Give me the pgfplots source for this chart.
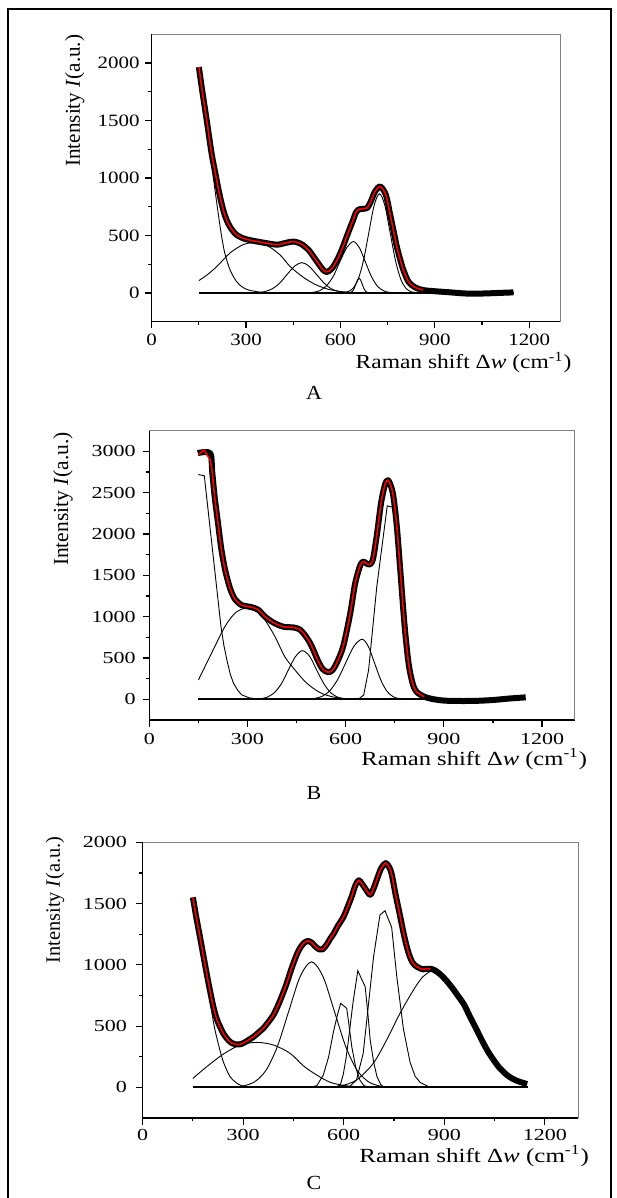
\documentclass[border=0pt]{standalone}
\usepackage{fontspec}
\setmainfont{Liberation Serif}
\newfontfamily\tickA[FakeStretch=1.21]{Liberation Serif}
\newfontfamily\tickB[FakeStretch=1.31]{Liberation Serif}
\newfontfamily\labA[FakeStretch=1.174]{Liberation Serif}
\newfontfamily\labB[FakeStretch=1.228]{Liberation Serif}
\newfontfamily\labC[FakeStretch=1.25]{Liberation Serif}
\newfontfamily\letterfont[FakeStretch=1.1]{Liberation Serif}
\usepackage{pgfplots}
\usepackage{pgfplotstable}
\pgfplotsset{compat=1.18}

% measured spectra (black) and fitted curves (red)
\pgfplotstableread{
x y
150 1965
160 1770
175 1500
190 1220
201 1060
212 905
222 780
232 680
243 605
255 550
270 505
291 475
315 458
340 445
376 428
400 420
430 438
450 447
465 438
480 418
500 370
514 317
530 255
545 200
556 183
567 198
577 229
590 290
604 375
617 470
630 563
641 640
650 705
660 728
670 732
685 740
697 800
710 883
726 926
742 869
750 790
757 694
768 550
779 404
790 290
800 200
816 98
837 49
863 25
900 15
950 5
1000 -5
1050 -5
1100 0
1150 5
}\dataA

\pgfplotstableread{
x y
148 2979
186 2979
192 2760
200 2440
210 2130
220 1820
232 1560
247 1340
262 1210
282 1140
300 1125
315 1112
333 1083
353 1002
374 941
394 900
414 875
440 870
460 845
475 780
490 690
501 600
515 470
530 365
547 328
560 355
575 460
593 650
614 1042
629 1405
645 1627
655 1665
665 1640
675 1635
684 1708
696 2010
708 2374
720 2596
730 2650
744 2495
756 2100
768 1500
780 890
792 440
804 200
816 93
840 32
864 5
900 -15
950 -20
1000 -18
1050 -8
1100 10
1150 24
}\dataB

\pgfplotstableread{
x y
150 1551
160 1390
171 1230
181 1080
191 931
201 790
211 659
221 560
231 495
243 430
256 385
266 362
276 352
288 350
301 362
315 385
331 413
349 455
361 485
372 522
390 590
405 675
419 770
430 850
443 960
455 1050
466 1120
480 1175
493 1195
505 1180
515 1150
527 1126
537 1126
549 1165
560 1215
569 1250
583 1320
599 1390
612 1475
624 1560
635 1650
645 1690
655 1660
666 1615
679 1572
690 1630
700 1706
712 1790
725 1830
735 1800
743 1740
755 1570
768 1400
780 1240
793 1100
805 1020
818 985
836 963
848 968
859 968
872 955
889 920
905 875
924 811
940 750
959 675
976 580
994 484
1012 385
1030 294
1048 220
1065 158
1083 110
1100 76
1120 50
1147 27
}\dataC

\pgfplotsset{
  raman/.style={
    scale only axis, anchor=north west,
    xmin=0, xmax=1300, xtick={0,300,600,900,1200},
    xticklabels={0,300,600,900,1200},
    minor x tick num=1, minor y tick num=1,
    axis x line*=bottom, axis y line*=left,
    axis line style={-, line width=0.65pt},
    tick align=outside, major tick length=3.35pt, minor tick length=1.7pt,
    tick style={black, line width=0.6pt},
    tick label style={inner sep=0pt},
    xlabel={Raman shift Δ\textit{w} (cm\textsuperscript{-1})},
    ylabel={Intensity \textit{I}(a.u.)},
    xlabel style={anchor=base east, inner sep=0pt},
    ylabel style={anchor=east, inner sep=0pt},
    extra description/.code={\draw[black!50, line width=0.65pt]
      (rel axis cs:0,1) -- (rel axis cs:1,1) -- (rel axis cs:1,0);},
  },
  meas/.style={black, line width=3pt, smooth, line join=round},
  fit/.style={red, line width=0.8pt, smooth},
  comp/.style={black, line width=0.45pt},
  base/.style={black, line width=1pt},
}

\begin{document}
\begin{tikzpicture}
\path[use as bounding box] (0pt,0pt) rectangle (308pt,-599pt);
\draw[line width=1.2pt] (4pt,-610pt) -- (4pt,-4.5pt) -- (305.5pt,-4.5pt) -- (305.5pt,-610pt);

% ---------- A ----------
\begin{axis}[raman, at={(75.85pt,-17.15pt)}, width=204.5pt, height=143.7pt,
  ymin=-250, ymax=2250, ytick={0,500,1000,1500,2000},
  yticklabels={0,500,1000,1500,2000},
  tick label style={font=\tickA\fontsize{8.65}{10}\selectfont},
  xticklabel shift=2.45pt, yticklabel shift=2.5pt,
  xlabel style={at={(axis description cs:1.027,-0.162)}, font=\labA\fontsize{10}{12}\selectfont},
  ylabel style={at={(axis description cs:-0.188,1.0)}, font=\fontsize{10.6}{12}\selectfont}]
\addplot[comp, smooth] coordinates {(150,1880)(165,1620)(180,1340)(190,1130)(200,920)(210,720)(220,530)(232,350)(249,201)(270,98)(290,48)(310,24)(340,9)(370,2)(400,0)};
\addplot[comp, smooth] coordinates {(150,108)(175,155)(207,230)(249,348)(291,421)(323,436)(366,413)(408,331)(440,230)(480,140)(520,74)(560,33)(600,13)(640,4)(680,0)};
\addplot[comp, smooth] coordinates {(336,3)(360,12)(383,36)(407,86)(430,160)(454,233)(477,264)(500,233)(524,160)(548,86)(571,36)(595,12)(618,3)(650,0)};
\addplot[comp, smooth] coordinates {(490,0)(512,5)(534,20)(555,60)(577,145)(598,271)(620,394)(641,447)(660,394)(679,271)(698,145)(717,60)(736,20)(755,5)(780,0)};
\addplot[comp, smooth] coordinates {(625,0)(634,6)(639,17)(644,42)(649,78)(654,113)(659,128)(664,113)(669,78)(674,42)(679,17)(684,6)(693,0)};
\addplot[comp, smooth] coordinates {(600,0)(622,10)(639,38)(656,117)(673,280)(690,523)(707,762)(724,863)(741,762)(758,523)(775,280)(792,117)(809,38)(826,10)(850,0)};
\addplot[base] coordinates {(150,0)(1150,0)};
\addplot[meas] table {\dataA};
\addplot[fit, restrict x to domain=140:865] table {\dataA};
\end{axis}
\node[font=\letterfont\fontsize{10}{12}\selectfont] at (157pt,-196.5pt) {A};

% ---------- B ----------
\begin{axis}[raman, at={(74.65pt,-215.35pt)}, width=212.75pt, height=144.65pt,
  ymin=-250, ymax=3250, ytick={0,500,1000,1500,2000,2500,3000},
  yticklabels={0,500,1000,1500,2000,2500,3000},
  tick label style={font=\tickB\fontsize{8.4}{10}\selectfont},
  xticklabel shift=3.3pt, yticklabel shift=3.3pt,
  xlabel style={at={(axis description cs:1.0296,-0.1556)}, font=\labB\fontsize{10}{12}\selectfont},
  ylabel style={at={(axis description cs:-0.203,0.997)}, font=\fontsize{10.75}{12}\selectfont}]
\addplot[comp] coordinates {(150,2720)(168,2705)(219,880)(228,650)(237,478)(247,310)(257,196)(270,110)(282,55)(305,18)(330,5)(360,0)};
\addplot[comp, smooth] coordinates {(150,234)(190,557)(231,880)(262,1042)(292,1102)(323,1082)(353,961)(384,759)(414,516)(445,355)(480,200)(520,85)(560,30)(600,8)(640,0)};
\addplot[comp, smooth] coordinates {(339,7)(360,26)(382,80)(404,191)(425,357)(447,520)(468,589)(490,520)(511,357)(533,191)(554,80)(576,26)(597,7)(620,0)};
\addplot[comp, smooth] coordinates {(480,0)(500,8)(525,32)(550,98)(575,236)(600,441)(625,642)(650,727)(669,642)(688,441)(707,236)(726,98)(745,32)(764,8)(790,0)};
\addplot[comp] coordinates {(625,0)(640,5)(655,52)(670,355)(695,1364)(727,2341)(754,2313)(768,1450)(781,820)(795,380)(808,150)(820,55)(832,15)(860,0)};
\addplot[base] coordinates {(150,0)(1150,0)};
\addplot[meas] table {\dataB};
\addplot[red, line width=0.8pt] coordinates {(150,2960)(167,3015)(176,2960)(186,2900)(192,2760)};
\addplot[fit, restrict x to domain=191:850] table {\dataB};
\end{axis}
\node[font=\letterfont\fontsize{10}{12}\selectfont] at (157pt,-396.5pt) {B};

% ---------- C ----------
\begin{axis}[raman, at={(71.3pt,-421.15pt)}, width=217.9pt, height=137.85pt,
  ymin=-250, ymax=2000, ytick={0,500,1000,1500,2000},
  yticklabels={0,500,1000,1500,2000},
  tick label style={font=\tickB\fontsize{8.4}{10}\selectfont},
  xticklabel shift=1.9pt, yticklabel shift=4.3pt,
  xlabel style={at={(axis description cs:1.025,-0.1596)}, font=\labC\fontsize{10}{12}\selectfont},
  ylabel style={at={(axis description cs:-0.201,1.023)}, font=\fontsize{10.2}{12}\selectfont}]
\addplot[comp, smooth] coordinates {(150,1480)(162,1300)(175,1120)(191,870)(201,700)(216,468)(236,250)(248,160)(261,87)(276,45)(291,19)(311,5)(340,0)};
\addplot[comp, smooth] coordinates {(150,73)(191,168)(241,272)(291,346)(341,367)(390,346)(440,278)(480,175)(520,100)(559,42)(600,16)(650,4)(700,0)};
\addplot[comp, smooth] coordinates {(300,11)(334,45)(368,139)(402,333)(436,622)(470,905)(504,1025)(538,905)(572,622)(606,333)(640,139)(674,45)(708,11)(740,0)};
\addplot[comp] coordinates {(500,0)(520,15)(539,100)(555,250)(569,450)(582,600)(591,686)(609,645)(617,480)(624,332)(636,160)(648,60)(660,15)(673,0)};
\addplot[comp] coordinates {(575,0)(590,20)(599,112)(607,240)(614,386)(628,700)(642,952)(664,821)(672,600)(679,386)(689,210)(699,89)(710,25)(720,0)};
\addplot[comp] coordinates {(610,0)(618,8)(638,60)(658,277)(673,658)(689,1067)(708,1407)(723,1442)(743,1305)(758,910)(778,476)(798,204)(813,90)(828,41)(858,0)};
\addplot[comp, smooth] coordinates {(540,0)(589,11)(638,60)(688,196)(728,387)(768,605)(808,795)(835,900)(857,944)(870,950)(889,915)(924,808)(959,672)(994,482)(1030,292)(1065,156)(1100,75)(1147,26)};
\addplot[base] coordinates {(150,0)(1150,0)};
\addplot[meas] table {\dataC};
\addplot[fit, restrict x to domain=140:860] table {\dataC};
\end{axis}
\node[font=\letterfont\fontsize{10}{12}\selectfont] at (157pt,-591.5pt) {C};
\end{tikzpicture}
\end{document}
